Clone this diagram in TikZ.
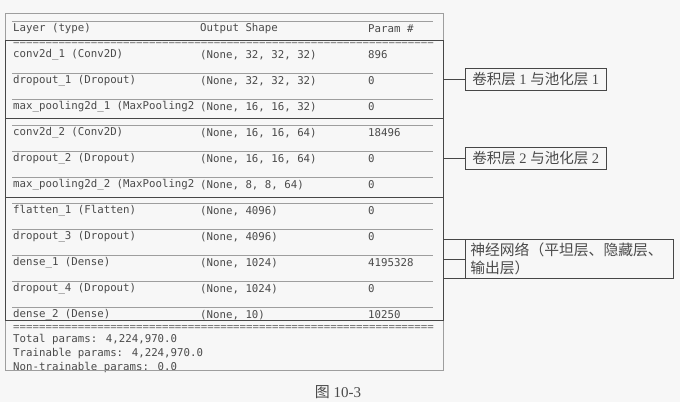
\documentclass[tikz,border=0pt]{standalone}
\usepackage{fontspec}
\setmainfont{Liberation Serif}
\newfontfamily\keras{DejaVu Sans Mono}
\newfontfamily\cjk{Noto Sans CJK SC}
\usetikzlibrary{positioning}
\definecolor{ink}{HTML}{4A4A4A}
\definecolor{rule}{HTML}{9E9E9E}
\definecolor{edge}{HTML}{474747}
\definecolor{paper}{HTML}{F7F7F7}
\tikzset{
  cell/.style={anchor=west, inner sep=0pt, text=ink, font=\keras\fontsize{10.75}{13}\selectfont},
  grp/.style={draw=edge, line width=0.9pt, anchor=north west, minimum width=438pt, inner sep=0pt},
  lbl/.style={draw=edge, line width=0.8pt, text=ink, inner xsep=4pt, inner ysep=3pt, minimum height=22pt, font=\fontsize{14.5}{18.5}\selectfont},
  sep/.style={rule, line width=0.7pt}
}
\newcommand\eqline{=================================================================}
\begin{document}
\begin{tikzpicture}[x=1pt,y=-1pt]
\fill[paper] (0,0) rectangle (680,402);
\useasboundingbox (0,0) rectangle (680,402);
% header
\draw[sep] (12,21) -- (433,21);
\node[cell] (hl) at (13,29) {Layer (type)};
\node[cell] (hs) at (200,29) {Output Shape};
\node[cell] (hp) at (368,29) {Param \#};
\node[cell, text=edge!80] (eqtop) at (13,43) {\eqline};
% layers
\foreach \lyr/\shp/\prm [count=\i] in {
  {conv2d\_1 (Conv2D)}/{(None, 32, 32, 32)}/896,
  {dropout\_1 (Dropout)}/{(None, 32, 32, 32)}/0,
  {max\_pooling2d\_1 (MaxPooling2}/{(None, 16, 16, 32)}/0,
  {conv2d\_2 (Conv2D)}/{(None, 16, 16, 64)}/18496,
  {dropout\_2 (Dropout)}/{(None, 16, 16, 64)}/0,
  {max\_pooling2d\_2 (MaxPooling2}/{(None, 8, 8, 64)}/0,
  {flatten\_1 (Flatten)}/{(None, 4096)}/0,
  {dropout\_3 (Dropout)}/{(None, 4096)}/0,
  {dense\_1 (Dense)}/{(None, 1024)}/4195328,
  {dropout\_4 (Dropout)}/{(None, 1024)}/0,
  {dense\_2 (Dense)}/{(None, 10)}/10250} {
  \pgfmathsetmacro\y{29+26*\i}
  \node[cell] (l\i) at (13,\y) {\lyr};
  \node[cell] (s\i) at (200,\y) {\shp};
  \node[cell] (p\i) at (368,\y) {\prm};
  \ifnum\i>1 \draw[sep] (12,\y-8) -- (433,\y-8); \fi
}
\node[cell, text=edge!80] (eqbot) at (13,328) {\eqline};
\node[cell] (tot) at (13,339) {Total params: 4,224,970.0};
\node[cell] (tra) at (13,353) {Trainable params: 4,224,970.0};
\node[cell] (non) at (13,367) {Non-trainable params: 0.0};
\draw[rule, line width=0.8pt] (5,13) rectangle (443,370);
% groups
\node[grp, minimum height=78pt] (g1) at (5,40) {};
\node[grp, minimum height=79pt] (g2) at (5,118) {};
\node[grp, minimum height=123pt] (g3) at (5,197) {};
\node[lbl, minimum width=141pt, right=21pt of g1] (b1) {{\cjk 卷积层} 1 {\cjk 与池化层} 1};
\node[lbl, minimum width=141pt, right=21pt of g2] (b2) {{\cjk 卷积层} 2 {\cjk 与池化层} 2};
\node[lbl, text width=198pt, inner xsep=5pt, align=left, right=21pt of g3,
  font=\cjk\fontsize{14.8}{18.5}\selectfont] (b3) {神经网络（平坦层、隐藏层、\\输出层）};
\draw[edge, line width=0.8pt] (g1.east) -- (b1.west);
\draw[edge, line width=0.8pt] (g2.east) -- (b2.west);
\draw[edge, line width=0.8pt] (g3.east) -- (b3.west);
\draw[edge, line width=0.8pt] (g3.east |- b3.north west) -- (b3.north west);
\draw[edge, line width=0.8pt] (g3.east |- b3.south west) -- (b3.south west);
% caption
\node[text=ink, font=\fontsize{15}{17}\selectfont] (cap) at (338,392) {{\cjk 图} 10-3};
\end{tikzpicture}
\end{document}
